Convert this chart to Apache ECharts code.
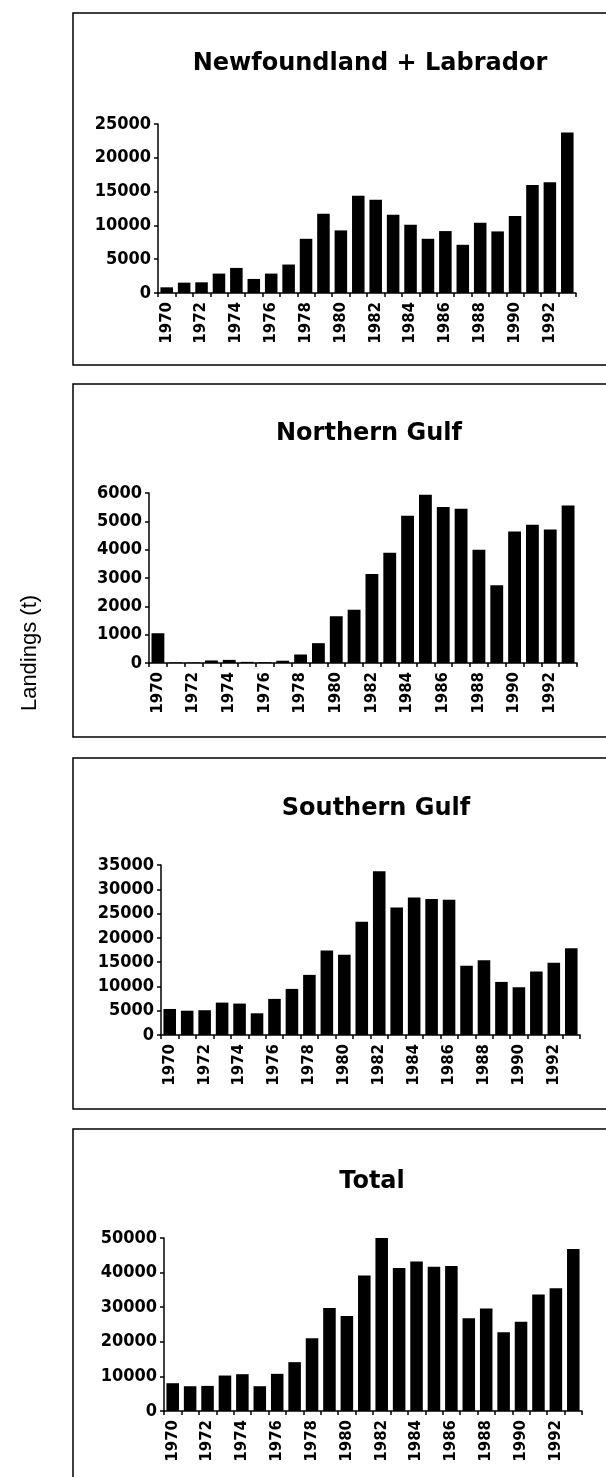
<!DOCTYPE html>
<html>
<head>
<meta charset="utf-8">
<script src="https://cdn.jsdelivr.net/npm/echarts@6/dist/echarts.min.js"></script>
<style>
html,body{margin:0;padding:0;background:#fff;}
#chart{width:606px;height:1477px;}
</style>
</head>
<body>
<div id="chart"></div>
<script>
const years = ['1970','1971','1972','1973','1974','1975','1976','1977','1978','1979','1980','1981','1982','1983','1984','1985','1986','1987','1988','1989','1990','1991','1992','1993'];
const nflLab = [840,1530,1580,2870,3710,2080,2870,4210,8020,11730,9260,14400,13810,11580,10100,8020,9160,7130,10400,9110,11390,15990,16390,23740];
const northGulf = [1050,20,20,90,110,40,30,80,300,700,1650,1880,3140,3890,5200,5940,5510,5440,4000,2740,4640,4880,4710,5560];
const southGulf = [5360,5000,5100,6670,6470,4470,7430,9490,12380,17400,16500,23310,33700,26270,28330,27990,27850,14240,15400,10930,9830,13070,14860,17880];
const total = [8030,7160,7250,10250,10640,7160,10740,14120,20990,29790,27470,39170,50000,41300,43230,41680,41880,26790,29600,22730,25820,33660,35490,46810];
const panelTitles = ['Newfoundland + Labrador','Northern Gulf','Southern Gulf','Total'];
const yTitle = 'Landings (t)';
const yMax = [25000, 6000, 35000, 50000];
const yStep = [5000, 1000, 5000, 10000];

const seriesData = [nflLab, northGulf, southGulf, total];

// layout (pixels)
const grids = [
  {left:158, top:124, width:418, height:169},
  {left:149, top:493, width:428, height:170},
  {left:161, top:865, width:419, height:170},
  {left:164, top:1238, width:418, height:173}
];
const boxes = [
  {y:13, h:352},
  {y:384, h:353},
  {y:758, h:351},
  {y:1129, h:400}
];
const titlePos = [{x:365, y:47},{x:364, y:417},{x:371, y:792},{x:367, y:1165}];

const chart = echarts.init(document.getElementById('chart'), null, {renderer:'canvas'});

const tickFont = {fontFamily:'DejaVu Sans Condensed, DejaVu Sans', fontWeight:'bold', fontSize:18, color:'#000'};

const option = {
  backgroundColor:'#fff',
  animation:false,
  title: panelTitles.map((t,i)=>({
    text:t, left:titlePos[i].x, top:titlePos[i].y, textAlign:'center',
    textStyle:{fontFamily:'DejaVu Sans', fontWeight:'bold', fontSize:24, color:'#000'}
  })),
  graphic: boxes.map(b=>({
    type:'rect', shape:{x:73, y:b.y, width:600, height:b.h},
    style:{fill:'none', stroke:'#000', lineWidth:1.5}, silent:true
  })).concat([{
    type:'text', x:30, y:653, rotation:Math.PI/2,
    style:{text:yTitle, fontFamily:'Liberation Sans, Arial', fontSize:22, fill:'#000', textAlign:'center', textVerticalAlign:'middle'}
  }]),
  grid: grids,
  xAxis: grids.map((g,i)=>({
    type:'category', gridIndex:i, data:years,
    axisLine:{lineStyle:{color:'#000', width:1.5}},
    axisTick:{show:true, interval:0, length:4, lineStyle:{color:'#000', width:1.5}},
    axisLabel:{interval:1, rotate:90, margin:9, fontFamily:'DejaVu Sans', fontWeight:'bold', fontSize:15, color:'#000'},
    splitLine:{show:false}
  })),
  yAxis: grids.map((g,i)=>({
    type:'value', gridIndex:i, min:0, max:yMax[i], interval:yStep[i],
    axisLine:{show:true, lineStyle:{color:'#000', width:1.5}},
    axisTick:{show:true, length:4, lineStyle:{color:'#000', width:1.5}},
    axisLabel:Object.assign({margin:7, formatter:v=>String(v)}, tickFont),
    splitLine:{show:false}
  })),
  series: seriesData.map((d,i)=>({
    type:'bar', xAxisIndex:i, yAxisIndex:i, data:d,
    barCategoryGap:'28%', itemStyle:{color:'#000'}
  }))
};
chart.setOption(option);
</script>
</body>
</html>
